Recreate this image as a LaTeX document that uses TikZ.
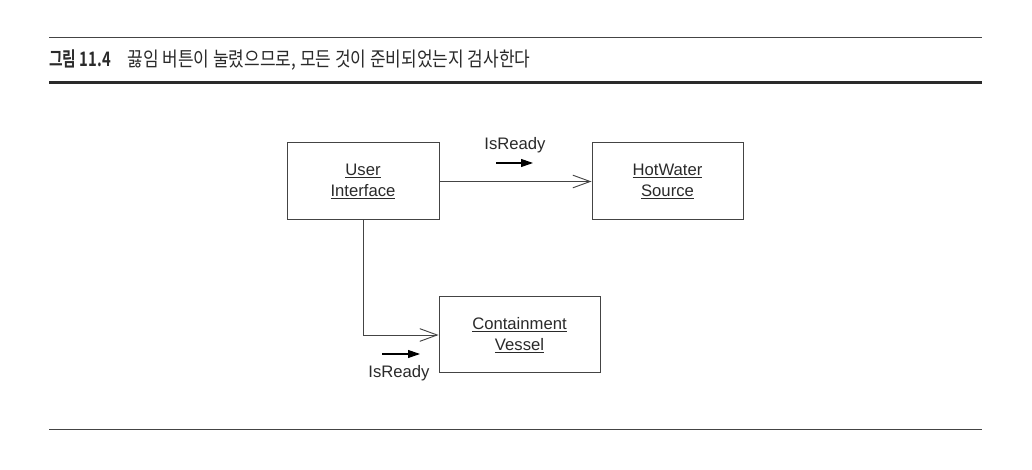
\documentclass[tikz,border=0pt]{standalone}
\usepackage{fontspec}
\setmainfont{Liberation Sans}
\newfontfamily\krfont[FakeStretch=0.85]{Noto Sans CJK KR}
\newfontfamily\krbold[FakeStretch=0.74,UprightFont={* Bold}]{Noto Sans CJK KR}
\usetikzlibrary{arrows.meta}
\definecolor{linec}{HTML}{444444}
\definecolor{textc}{HTML}{2A2A2A}
\tikzset{
  objbox/.style={draw=linec, line width=0.75pt, align=center, inner sep=0pt, font=\fontsize{12.5}{14.3}\selectfont, text=textc},
  msg/.style={font=\fontsize{12.5}{15}\selectfont, text=textc, inner sep=0pt},
  link/.style={draw=linec, line width=0.7pt, -{Straight Barb[length=13pt,width=9.5pt,line width=0.7pt]}},
  dirarrow/.style={draw=black, line width=0.8pt, -{Triangle[length=9pt,width=6pt]}},
  rulethin/.style={draw=linec, line width=1pt},
  rulethick/.style={draw=textc, line width=2.4pt},
}
\begin{document}
\begin{tikzpicture}[x=0.75pt,y=-0.75pt]
\useasboundingbox (0,0) rectangle (1032,470);
% frame rules
\coordinate (tl) at (49,37.5); \coordinate (tr) at (982,37.5);
\coordinate (ml) at (49,82.5); \coordinate (mr) at (982,82.5);
\coordinate (bl) at (49,429.5); \coordinate (br) at (982,429.5);
\draw[rulethin] (tl) -- (tr);
\draw[rulethick] (ml) -- (mr);
\draw[rulethin] (bl) -- (br);
% title
\node[anchor=west, inner sep=0pt, text=textc] (title) at (49,60)
  {\fontsize{15}{17}\krbold 그림 11.4\hspace{12.5pt}\krfont 끓임 버튼이 눌렸으므로, 모든 것이 준비되었는지 검사한다};
% boxes
\node[objbox, minimum width=114pt, minimum height=57.75pt] (ui) at (363,181.5)
  {\underline{User}\\[1.5pt]\underline{Interface}};
\node[objbox, minimum width=113.25pt, minimum height=57.75pt] (hw) at (667.5,181.5)
  {\underline{HotWater}\\[1.5pt]\underline{Source}};
\node[objbox, minimum width=120.75pt, minimum height=57pt] (cv) at (519.5,335)
  {\underline{Containment}\\[1.5pt]\underline{Vessel}};
% links
\draw[link] (ui.east) -- (hw.west);
\draw[link] (ui.south) |- (cv.west);
% messages
\node[msg] (m1) at (515,145) {IsReady};
\coordinate (m1a) at (496,163); \coordinate (m1b) at (533,163);
\draw[dirarrow] (m1a) -- (m1b);
\node[msg] (m2) at (399,373) {IsReady};
\coordinate (m2a) at (382,354); \coordinate (m2b) at (420,354);
\draw[dirarrow] (m2a) -- (m2b);
\end{tikzpicture}
\end{document}
